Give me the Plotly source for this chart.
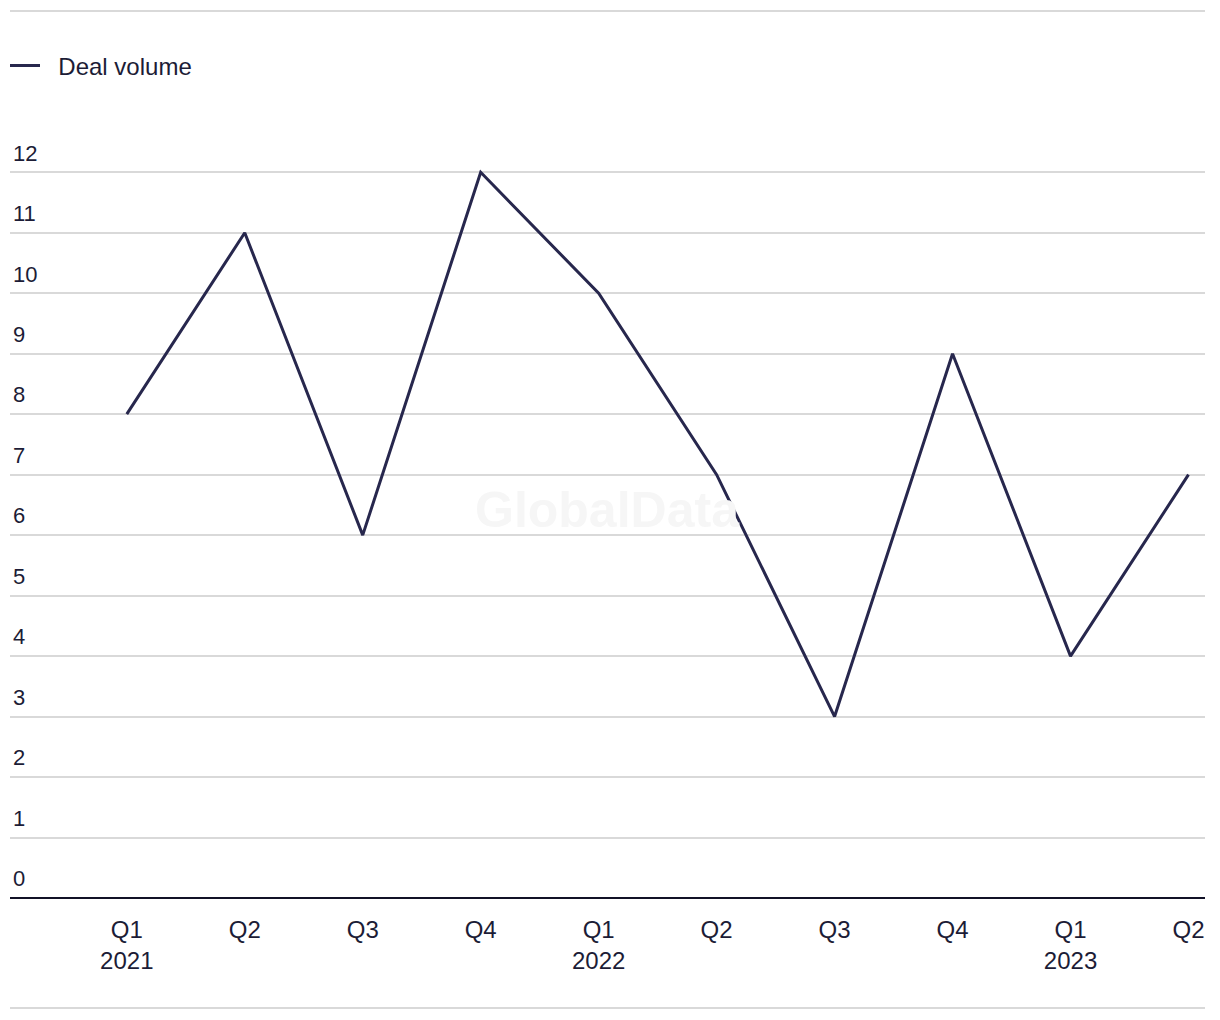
import plotly.graph_objects as go

quarters = ["Q1", "Q2", "Q3", "Q4", "Q1", "Q2", "Q3", "Q4", "Q1", "Q2"]
years = ["2021", "", "", "", "2022", "", "", "", "2023", ""]
deal_volume = [8, 11, 6, 12, 10, 7, 3, 9, 4, 7]
y_ticks = list(range(0, 13))
series_name = "Deal volume"

tick_text = [q + ("<br>" + y if y else "") for q, y in zip(quarters, years)]
x_pos = list(range(len(quarters)))

TEXT = "#1c1c36"
LINE = "#27274d"
GRID = "#d9d9d9"
FONT = "Liberation Sans, Arial, sans-serif"

fig = go.Figure()
fig.add_trace(go.Scatter(
    x=x_pos, y=deal_volume, mode="lines", name="\u00a0\u00a0" + series_name,
    line=dict(color=LINE, width=3),
))

fig.update_layout(
    width=1220, height=1020,
    paper_bgcolor="white", plot_bgcolor="white",
    margin=dict(l=10, r=15, t=136, b=122),
    font=dict(family=FONT, size=22, color=TEXT),
    showlegend=True,
    legend=dict(
        orientation="h", xref="container", yref="container",
        x=5 / 1220, y=1 - 66 / 1020, xanchor="left", yanchor="middle",
        font=dict(size=24, color=TEXT), itemwidth=30,
    ),
    xaxis=dict(
        range=[-0.99, 9.14], tickmode="array", tickvals=x_pos, ticktext=tick_text,
        showgrid=False, zeroline=False, showline=False,
        ticks="", ticklabelstandoff=15,
        tickfont=dict(size=24, color=TEXT),
    ),
    yaxis=dict(
        range=[0, 12.6], tickmode="array", tickvals=y_ticks,
        ticktext=[str(v) for v in y_ticks],
        showgrid=True, gridcolor=GRID, gridwidth=2,
        zeroline=True, zerolinecolor="#111126", zerolinewidth=2,
        showline=False, ticks="",
        ticklabelposition="inside top", ticklabelshift=-4,
        tickfont=dict(size=22, color=TEXT),
    ),
)

# watermark
fig.add_annotation(
    text="<b>GlobalData</b>", x=0.5, y=0.5, xref="paper", yref="paper",
    showarrow=False, yshift=7,
    font=dict(size=50, color="#f6f6f6", family=FONT),
)

# top and bottom separator lines
for ypx in (11, 1008):
    fig.add_shape(
        type="line", xref="paper", yref="paper",
        x0=0, x1=1, y0=(1020 - 122 - ypx) / (1020 - 136 - 122),
        y1=(1020 - 122 - ypx) / (1020 - 136 - 122),
        line=dict(color=GRID, width=2), layer="below",
    )

fig.write_html("out.html")
